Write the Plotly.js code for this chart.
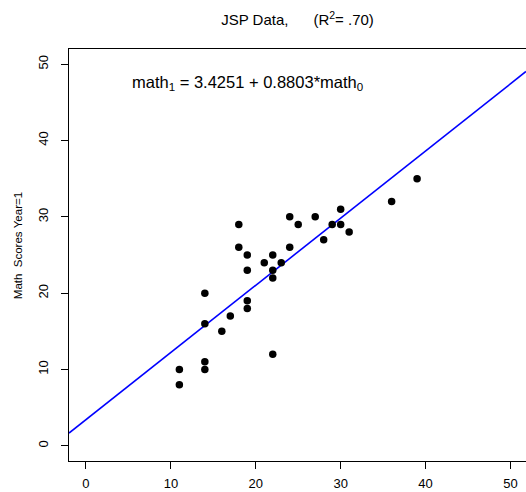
<!DOCTYPE html>
<html>
<head>
<meta charset="utf-8">
<script src="https://cdn.plot.ly/plotly-3.0.1.min.js"></script>
<style>html,body{margin:0;padding:0;background:#fff;}#chart{width:526px;height:492px;}</style>
</head>
<body>
<div id="chart"></div>
<script>
// Year 0 and Year 1 math scores
var math0 = [18, 18, 19, 19, 24, 25, 27, 30, 29, 30, 31, 28, 24, 21, 22, 23, 22, 22, 14, 19, 19, 17, 14, 16, 22, 14, 14, 11, 11, 39, 36];
var math1 = [29, 26, 25, 23, 30, 29, 30, 31, 29, 29, 28, 27, 26, 24, 25, 24, 23, 22, 20, 19, 18, 17, 16, 15, 12, 11, 10, 10, 8, 35, 32];
var intercept = 3.4251;
var slope = 0.8803;
var xTicks = [0, 10, 20, 30, 40, 50];
var yTicks = [0, 10, 20, 30, 40, 50];

var xr = [-2, 51.83];
var lineX = [xr[0], xr[1]];
var lineY = lineX.map(function (v) { return intercept + slope * v; });

var font = "Liberation Sans, Arial, sans-serif";
var traces = [
  {
    x: lineX, y: lineY, type: "scatter", mode: "lines",
    line: {color: "#0000ff", width: 1.6}, hoverinfo: "skip"
  },
  {
    x: math0, y: math1, type: "scatter", mode: "markers",
    marker: {color: "#000000", size: 7.5, line: {width: 0}}
  }
];

var layout = {
  width: 526, height: 492,
  margin: {l: 69, r: 0, t: 49, b: 31, pad: 0},
  paper_bgcolor: "#ffffff", plot_bgcolor: "#ffffff",
  showlegend: false,
  font: {family: font, color: "#000000", size: 13},
  title: {
    text: "JSP Data,\u00a0\u00a0\u00a0\u00a0\u00a0\u00a0(R<sup>2</sup>= .70)",
    font: {family: font, size: 15, color: "#000000"},
    x: 0.5, xref: "paper", xanchor: "center",
    y: 1 - 20 / 492, yref: "container", yanchor: "middle"
  },
  xaxis: {
    range: xr, autorange: false,
    tickvals: xTicks, ticktext: xTicks.map(String),
    ticks: "outside", ticklen: 7, tickwidth: 1, tickcolor: "#000",
    ticklabelstandoff: 3,
    showline: true, linecolor: "#000", linewidth: 1, mirror: true,
    showgrid: false, zeroline: false,
    tickfont: {family: font, size: 13, color: "#000"}
  },
  yaxis: {
    range: [-2, 52], autorange: false,
    tickvals: yTicks, ticktext: yTicks.map(String),
    tickangle: -90,
    ticks: "outside", ticklen: 7, tickwidth: 1, tickcolor: "#000",
    ticklabelstandoff: 8,
    showline: true, linecolor: "#000", linewidth: 1, mirror: false,
    showgrid: false, zeroline: false,
    tickfont: {family: font, size: 13, color: "#000"}
  },
  annotations: [
    {
      text: "math<sub>1</sub> = 3.4251 + 0.8803*math<sub>0</sub>",
      x: 5.18, y: 47.5, xref: "x", yref: "y",
      xanchor: "left", yanchor: "middle", showarrow: false,
      font: {family: font, size: 16.5, color: "#000"}
    },
    {
      text: "Math\u00a0\u00a0Scores\u00a0Year=1",
      x: (18 - 69) / 457, y: (461.3 - 246.5) / 412, xref: "paper", yref: "paper",
      xanchor: "center", yanchor: "middle", textangle: -90, showarrow: false,
      font: {family: font, size: 11.5, color: "#000"}
    }
  ]
};

Plotly.newPlot("chart", traces, layout, {displayModeBar: false, staticPlot: true});
</script>
</body>
</html>
